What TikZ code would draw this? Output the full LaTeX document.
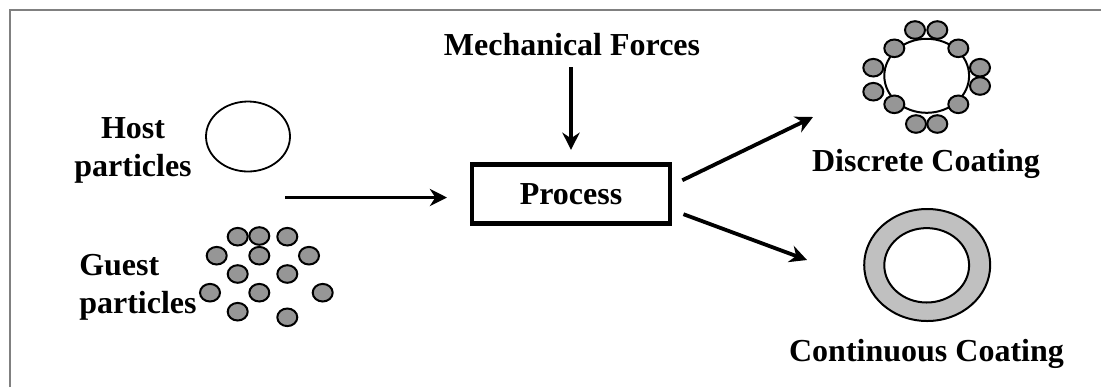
\documentclass[tikz,border=0pt]{standalone}
\usepackage{fontspec}
\setmainfont{Liberation Serif}
\usetikzlibrary{arrows.meta}

\definecolor{particle}{RGB}{150,150,150}
\definecolor{coat}{RGB}{192,192,192}
\definecolor{frame}{RGB}{128,128,128}

\begin{document}
\begin{tikzpicture}[x=0.25mm, y=-0.25mm,
    words/.style={font=\bfseries\fontsize{22.76}{27}\selectfont, inner sep=0pt},
    flow/.style={line width=0.95mm, -{Stealth[length=4.3mm, width=4.3mm, inset=1.4mm]}},
    grain/.style={draw, line width=0.5mm, fill=particle},
    shell/.style={draw, line width=0.5mm}]
    \useasboundingbox (0,0) rectangle (1101,387);

    % frame
    \draw[frame, line width=0.5mm] (9.5,387) -- (9.5,10) -- (1101,10);

    % labels
    \node[words, anchor=base] (mech) at (572,55) {Mechanical Forces};
    \node[words, draw, line width=1.1mm, minimum width=49.5mm, minimum height=14.75mm] (proc) at (571,194) {Process};
    \node[words, align=center] (host) at (133,150) {Host\\particles};
    \node[words, align=left, anchor=west] (guest) at (79,287) {Guest\\particles};
    \node[words, anchor=base] (discrete) at (926,171.7) {Discrete Coating};
    \node[words, anchor=base] (continuous) at (926.5,361.7) {Continuous Coating};

    % host particle
    \draw[shell, line width=0.45mm] (248,136.5) ellipse [x radius=10.5mm, y radius=8.75mm];

    % guest particles
    \foreach \x/\y in {237.7/236.7, 259.3/236, 287.3/236.7, 216.7/255.7, 259.3/255.7, 309/255.7,
                       237.7/274, 287.3/274, 210/292.7, 259.3/292.7, 322.7/292.7, 237.7/311.7, 287.3/317.3} {
        \draw[grain] (\x,\y) ellipse [x radius=2.5mm, y radius=2.2mm];
    }

    % discrete coating
    \draw[shell, fill=white] (926.7,75.8) ellipse [x radius=10.6mm, y radius=9.25mm];
    \foreach \x/\y in {915/30, 937.3/30, 894.3/48.3, 958.3/48.3, 873.3/67.7, 873.3/91.7,
                       980/67.7, 980/86, 894.3/104.3, 958.3/104.3, 916/124, 937.3/124} {
        \draw[grain] (\x,\y) ellipse [x radius=2.5mm, y radius=2.2mm];
    }

    % continuous coating
    \draw[shell, fill=coat] (927.2,265) ellipse [x radius=15.75mm, y radius=14mm];
    \draw[shell, fill=white] (926.7,265.3) ellipse [x radius=10.6mm, y radius=9.3mm];

    % arrows
    \coordinate (feed) at (285,197.5);
    \coordinate (dtip) at (813,117);
    \coordinate (ctip) at (807,260);
    \draw[flow, shorten <=2.9mm, shorten >=3.1mm] (mech.south -| proc.north) -- (proc.north);
    \draw[flow, shorten >=5.7mm] (feed) -- (feed -| proc.west);
    \draw[flow, shorten <=2.8mm] (proc.5) -- (dtip);
    \draw[flow, shorten <=3mm] (proc.-9) -- (ctip);
\end{tikzpicture}
\end{document}
